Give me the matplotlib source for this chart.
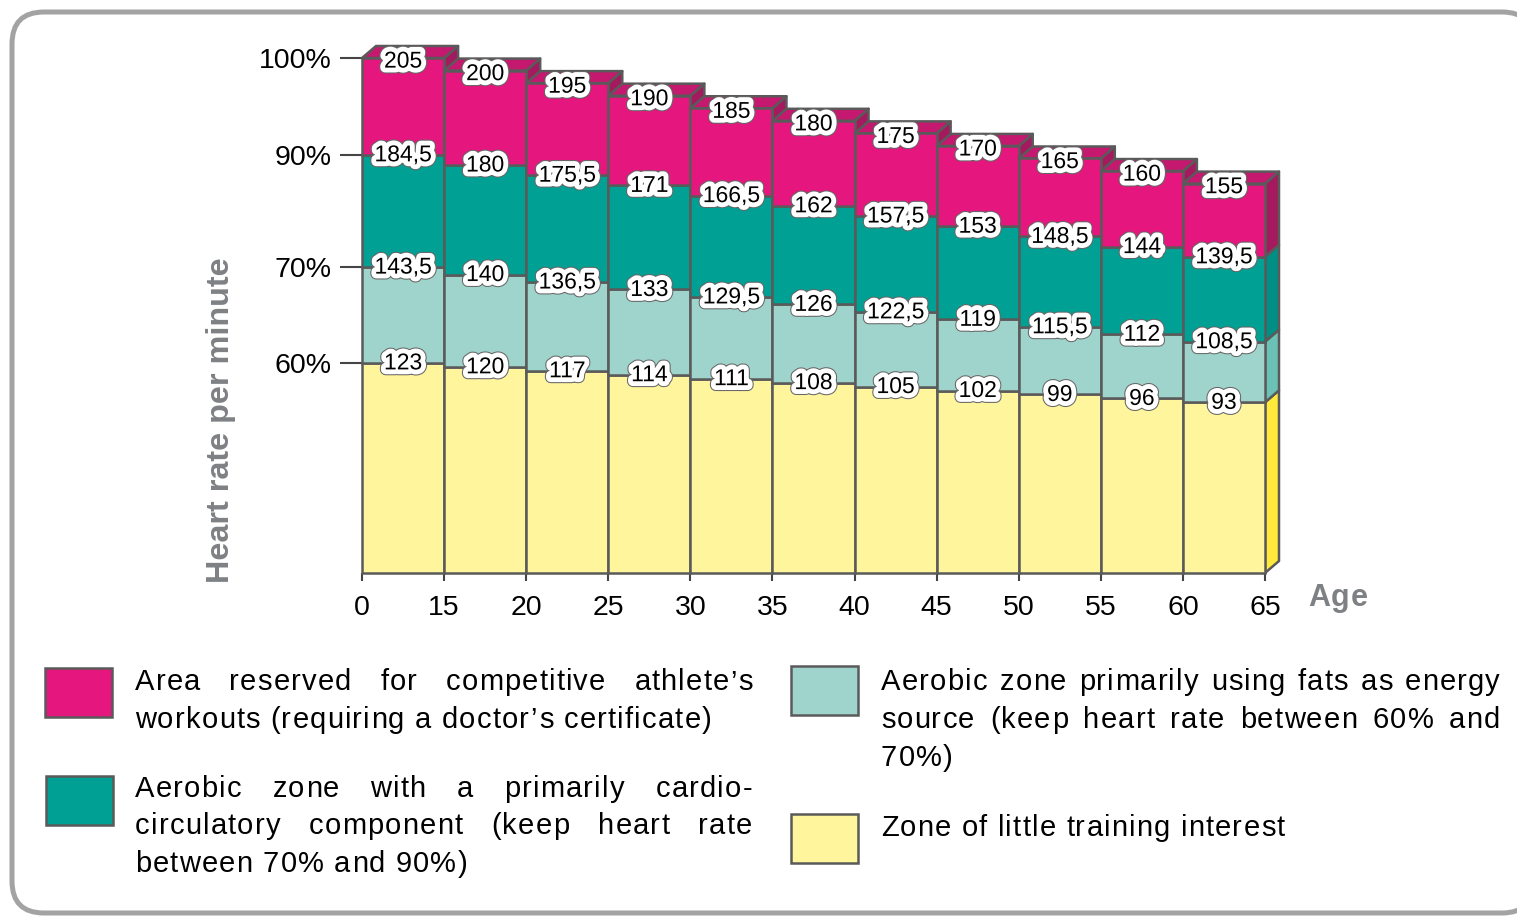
import matplotlib
matplotlib.use("Agg")
import matplotlib.pyplot as plt
import matplotlib.patheffects as pe
from matplotlib.patches import Polygon, Rectangle, FancyBboxPatch

# --- Data ---
age_edges = [0, 15, 20, 25, 30, 35, 40, 45, 50, 55, 60, 65]
hr_max = [205, 200, 195, 190, 185, 180, 175, 170, 165, 160, 155]
hr_90 = [184.5, 180, 175.5, 171, 166.5, 162, 157.5, 153, 148.5, 144, 139.5]
hr_70 = [143.5, 140, 136.5, 133, 129.5, 126, 122.5, 119, 115.5, 112, 108.5]
hr_60 = [123, 120, 117, 114, 111, 108, 105, 102, 99, 96, 93]
zone_pcts = [60, 70, 90, 100]

legend_left = [
    ("#E5177F", ["Area reserved for competitive athlete’s",
                 "workouts (requiring a doctor’s certificate)"]),
    ("#00A194", ["Aerobic zone with a primarily cardio-",
                 "circulatory component (keep heart rate",
                 "between 70% and 90%)"]),
]
legend_right = [
    ("#9FD4CD", ["Aerobic zone primarily using fats as energy",
                 "source (keep heart rate between 60% and",
                 "70%)"]),
    ("#FFF59D", ["Zone of little training interest"]),
]

# --- Styles ---
front_colors = ["#FFF59D", "#9FD4CD", "#00A194", "#E5177F"]
side_colors = ["#FFEA3C", "#6CC1B7", "#008F84", "#A5195F"]
top_color = "#C5186F"
edge_color = "#5a5a5a"
gray_text = "#7e8184"
font = "Liberation Sans"

# schematic vertical layout: where each % level sits for the first bar,
# and how strongly it follows the drop of max heart rate
level_base = {60: 40.8, 70: 59.4, 90: 81.2, 100: 100.0}
level_shrink = {60: 0.77, 70: 1.0, 90: 1.0, 100: 1.0}


def level_height(pct, mhr):
    return level_base[pct] * (1 - level_shrink[pct] * (1 - mhr / hr_max[0]))


def fmt(v):
    return f"{v:g}".replace(".", ",")


plt.rcParams["font.family"] = [font, "DejaVu Sans"]
fig = plt.figure(figsize=(15.17, 9.16), dpi=100)

# background overlay in pixel coordinates (frame + legend + labels)
bg = fig.add_axes([0, 0, 1, 1], zorder=0)
bg.set_xlim(0, 1517)
bg.set_ylim(916, 0)
bg.axis("off")
bg.add_patch(FancyBboxPatch((12, 12), 1522, 901,
                            boxstyle="round,pad=0,rounding_size=32",
                            fc="white", ec="#a3a3a3", lw=3.6))

# --- Main chart ---
ax = fig.add_axes([362 / 1517, 1 - 573 / 916, 903 / 1517, 515 / 916], zorder=1)
ax.set_facecolor("none")
ax.set_xlim(0, 11)
ax.set_ylim(0, 100)
for s in ax.spines.values():
    s.set_visible(False)

dx = 14 / (903 / 11)
dy = 12 / (515 / 100)
lw = 1.8

series = [hr_60, hr_70, hr_90, hr_max]
n = len(hr_max)
for i in range(n):
    x0, x1 = i, i + 1
    bounds = [0] + [level_height(p, hr_max[i]) for p in zone_pcts]
    z = 2 + i
    for k in range(4):
        lo, hi = bounds[k], bounds[k + 1]
        ax.add_patch(Polygon([(x1, lo), (x1 + dx, lo + dy), (x1 + dx, hi + dy), (x1, hi)],
                             closed=True, fc=side_colors[k], ec=edge_color, lw=lw,
                             joinstyle="round", zorder=z, clip_on=False))
    top = bounds[-1]
    ax.add_patch(Polygon([(x0, top), (x0 + dx, top + dy), (x1 + dx, top + dy), (x1, top)],
                         closed=True, fc=top_color, ec=edge_color, lw=lw,
                         joinstyle="round", zorder=z, clip_on=False))
    for k in range(4):
        ax.bar(x0, bounds[k + 1] - bounds[k], bottom=bounds[k], width=1, align="edge",
               color=front_colors[k], edgecolor=edge_color, linewidth=lw,
               zorder=z, clip_on=False)

# value labels
halo = [pe.Stroke(linewidth=8.5, foreground="#666666"),
        pe.Stroke(linewidth=7, foreground="white"), pe.Normal()]
for i in range(n):
    for k, p in enumerate(zone_pcts):
        y = level_height(p, hr_max[i])
        if p == 100:
            y -= 0.6
        ax.text(i + 0.5, y, fmt(series[k][i]), ha="center", va="center",
                fontsize=16.5, color="black", zorder=50, path_effects=halo)

# axes ticks
ax.set_yticks([level_height(p, hr_max[0]) for p in zone_pcts])
ax.set_yticklabels([f"{p}%" for p in zone_pcts])
ax.set_xticks(range(len(age_edges)))
ax.set_xticklabels([str(a) for a in age_edges])
ax.tick_params(axis="y", length=16, width=1.5, color="#444444", labelsize=20.5, pad=6)
ax.tick_params(axis="x", length=6, width=1.5, color="#444444", labelsize=20.5, pad=10)

# --- tracked (letter-spaced) text helpers ---
renderer = fig.canvas.get_renderer()
_wcache = {}


def text_width(s, fs, weight="normal"):
    key = (s, fs, weight)
    if key not in _wcache:
        t = bg.text(0, 0, s + "x", fontsize=fs, fontweight=weight)
        w1 = t.get_window_extent(renderer).width
        t.set_text("x")
        w0 = t.get_window_extent(renderer).width
        t.remove()
        _wcache[key] = w1 - w0
    return _wcache[key]


def tracked(x, y, s, fs, track, weight="normal", color="black"):
    for j, ch in enumerate(s):
        if ch == " ":
            continue
        off = text_width(s[:j], fs, weight) + j * track
        bg.text(x + off, y, ch, ha="left", va="baseline", fontsize=fs,
                fontweight=weight, color=color)


tracked(1308, 606, "Age", 22, 1.0, weight="bold", color=gray_text)
bg.text(229, 583, "Heart rate per minute", rotation=90, rotation_mode="anchor",
        ha="left", va="baseline", fontsize=23.3, fontweight="bold", color=gray_text)

# --- Legend with justified, letter-spaced text ---
leg_fs = 21
leg_track = 1.2


def put_lines(lines, x0, x1, y0, step):
    for j, line in enumerate(lines):
        y = y0 + j * step
        words = line.split(" ")
        if j == len(lines) - 1 or len(words) < 2:
            tracked(x0, y, line, leg_fs, leg_track)
            continue
        widths = [text_width(w, leg_fs) + leg_track * (len(w) - 1) for w in words]
        gap = (x1 - x0 - sum(widths)) / (len(words) - 1)
        x = x0
        for w, wd in zip(words, widths):
            tracked(x, y, w, leg_fs, leg_track)
            x += wd + gap


swatch_left = [(45, 668), (46, 776)]
text_left = [690, 797]
for (color, lines), (sx, sy), ty in zip(legend_left, swatch_left, text_left):
    bg.add_patch(Rectangle((sx, sy), 67, 49, fc=color, ec=edge_color, lw=1.8))
    put_lines(lines, 135, 752, ty, 37.5)

swatch_right = [(791, 666), (791, 814)]
text_right = [690, 836]
for (color, lines), (sx, sy), ty in zip(legend_right, swatch_right, text_right):
    bg.add_patch(Rectangle((sx, sy), 67, 49, fc=color, ec=edge_color, lw=1.8))
    put_lines(lines, 881, 1500, ty, 38)

fig.savefig("out.png", dpi=100)
